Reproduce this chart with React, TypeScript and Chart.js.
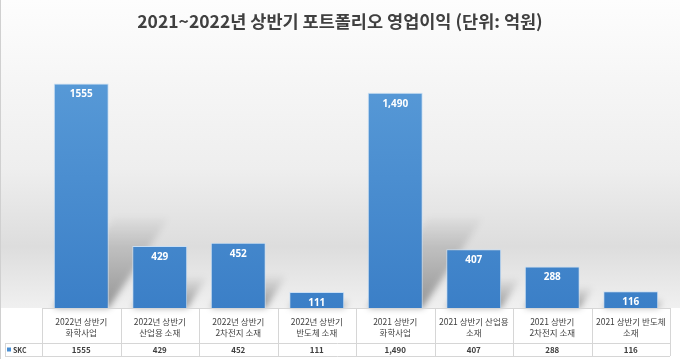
import React, { useEffect, useRef } from "react";
import { Chart, registerables } from "chart.js";

Chart.register(...registerables);

const chartTitle = "2021~2022년 상반기 포트폴리오 영업이익 (단위: 억원)";
const seriesName = "SKC";
const categories: string[][] = [
  ["2022년 상반기", "화학사업"],
  ["2022년 상반기", "산업용 소재"],
  ["2022년 상반기", "2차전지 소재"],
  ["2022년 상반기", "반도체 소재"],
  ["2021 상반기", "화학사업"],
  ["2021 상반기 산업용", "소재"],
  ["2021 상반기", "2차전지 소재"],
  ["2021 상반기 반도체", "소재"],
];
const skcValues = [1555, 429, 452, 111, 1490, 407, 288, 116];
const valueLabels = ["1555", "429", "452", "111", "1,490", "407", "288", "116"];

const KR = '"Noto Sans CJK KR", "Noto Sans", sans-serif';

export default function App() {
  const ref = useRef<HTMLCanvasElement>(null);

  useEffect(() => {
    const canvas = ref.current;
    if (!canvas) return;

    const bgPlugin = {
      id: "bgPlugin",
      beforeDraw(chart: any) {
        const { ctx, width, height, chartArea } = chart;
        ctx.save();
        const b = chartArea.bottom;
        const g = ctx.createLinearGradient(0, 0, 0, b);
        g.addColorStop(0, "#fdfdfd");
        g.addColorStop(0.55, "#eeeeee");
        g.addColorStop(0.8, "#dddddd");
        g.addColorStop(1, "#f0f0f0");
        ctx.fillStyle = g;
        ctx.fillRect(0, 0, width, b);
        ctx.fillStyle = "#ffffff";
        ctx.fillRect(0, b, width, height - b);
        ctx.strokeStyle = "#d0d0d0";
        ctx.lineWidth = 1;
        ctx.beginPath();
        ctx.moveTo(0.5, 0);
        ctx.lineTo(0.5, height);
        ctx.stroke();
        // title
        ctx.fillStyle = "#404040";
        ctx.font = `bold 17.5px ${KR}`;
        ctx.textAlign = "center";
        ctx.textBaseline = "middle";
        ctx.fillText(chartTitle, width / 2, 21);
        ctx.restore();
      },
      beforeDatasetsDraw(chart: any) {
        const { ctx } = chart;
        const meta = chart.getDatasetMeta(0);
        ctx.save();
        ctx.filter = "blur(3px)";
        meta.data.forEach((bar: any) => {
          const p = bar.getProps(["x", "y", "base", "width"], true);
          const L = p.x - p.width / 2;
          const R = p.x + p.width / 2;
          const B = p.base;
          const h = B - p.y;
          const dx = Math.min(h * 0.32, 60);
          const dy = Math.min(h * 0.5, 90);
          const g = ctx.createLinearGradient(0, B, 0, B - dy);
          g.addColorStop(0, "rgba(0,0,0,0.38)");
          g.addColorStop(1, "rgba(0,0,0,0.02)");
          ctx.fillStyle = g;
          ctx.beginPath();
          ctx.moveTo(L, B);
          ctx.lineTo(R, B);
          ctx.lineTo(R + dx, B - dy);
          ctx.lineTo(L + dx, B - dy);
          ctx.closePath();
          ctx.fill();
        });
        ctx.restore();
      },
      afterDatasetsDraw(chart: any) {
        const { ctx, chartArea, height } = chart;
        const meta = chart.getDatasetMeta(0);
        ctx.save();
        ctx.fillStyle = "#ffffff";
        ctx.font = `bold 10px "Open Sans", sans-serif`;
        ctx.textAlign = "center";
        ctx.textBaseline = "middle";
        meta.data.forEach((bar: any, i: number) => {
          const p = bar.getProps(["x", "y"], true);
          ctx.fillText(valueLabels[i], p.x, p.y + 11);
        });

        // data table
        const xs = chart.scales.x;
        const n = categories.length;
        const colW = (chartArea.right - chartArea.left) / n;
        const top = chartArea.bottom;
        const row1 = top + 35;
        const row2 = height - 3;
        const tableLeft = 5;
        ctx.strokeStyle = "#d6d6d6";
        ctx.lineWidth = 1;
        ctx.beginPath();
        ctx.moveTo(chartArea.left, top + 0.5);
        ctx.lineTo(chartArea.right, top + 0.5);
        ctx.moveTo(tableLeft, row1 + 0.5);
        ctx.lineTo(chartArea.right, row1 + 0.5);
        ctx.moveTo(tableLeft, row2 + 0.5);
        ctx.lineTo(chartArea.right, row2 + 0.5);
        ctx.moveTo(tableLeft + 0.5, row1);
        ctx.lineTo(tableLeft + 0.5, row2);
        for (let i = 0; i <= n; i++) {
          const xx = Math.round(chartArea.left + i * colW) + 0.5;
          ctx.moveTo(xx, top);
          ctx.lineTo(xx, row2);
        }
        ctx.stroke();

        ctx.fillStyle = "#404040";
        ctx.textAlign = "center";
        ctx.textBaseline = "middle";
        categories.forEach((lines, i) => {
          const cx = xs.getPixelForValue(i);
          ctx.font = `8.5px ${KR}`;
          ctx.fillText(lines[0], cx, top + 14);
          ctx.fillText(lines[1], cx, top + 25);
          ctx.font = `bold 8px ${KR}`;
          ctx.fillText(valueLabels[i], cx, (row1 + row2) / 2 + 0.5);
        });
        // legend key
        ctx.fillStyle = "#4a8fd3";
        ctx.fillRect(tableLeft + 2, (row1 + row2) / 2 - 2, 4, 4);
        ctx.fillStyle = "#404040";
        ctx.textAlign = "left";
        ctx.font = `bold 7px ${KR}`;
        ctx.fillText(seriesName, tableLeft + 8, (row1 + row2) / 2 + 0.5);
        ctx.restore();
      },
    };

    const chart = new Chart(canvas, {
      type: "bar",
      data: {
        labels: categories.map((c) => c.join(" ")),
        datasets: [
          {
            label: seriesName,
            data: skcValues,
            backgroundColor: (ctx: any) => {
              const area = ctx.chart.chartArea;
              if (!area) return "#4a8fd3";
              const g = ctx.chart.ctx.createLinearGradient(0, area.top, 0, area.bottom);
              g.addColorStop(0, "#5b9dd9");
              g.addColorStop(1, "#3b7fc7");
              return g;
            },
            borderColor: "rgba(200,222,244,0.95)",
            borderWidth: 1,
            categoryPercentage: 1,
            barPercentage: 0.7,
          },
        ],
      },
      options: {
        responsive: false,
        animation: false,
        layout: { padding: { left: 42, right: 10, top: 48, bottom: 51 } },
        plugins: {
          legend: { display: false },
          tooltip: { enabled: false },
          title: { display: false },
        },
        scales: {
          x: { display: false },
          y: { display: false, min: 0, max: 1800 },
        },
      },
      plugins: [bgPlugin],
    });

    return () => chart.destroy();
  }, []);

  return (
    <div style={{ position: "fixed", left: 0, top: 0, width: 680, height: 359 }}>
      <canvas ref={ref} width={680} height={359} style={{ display: "block" }} />
    </div>
  );
}
